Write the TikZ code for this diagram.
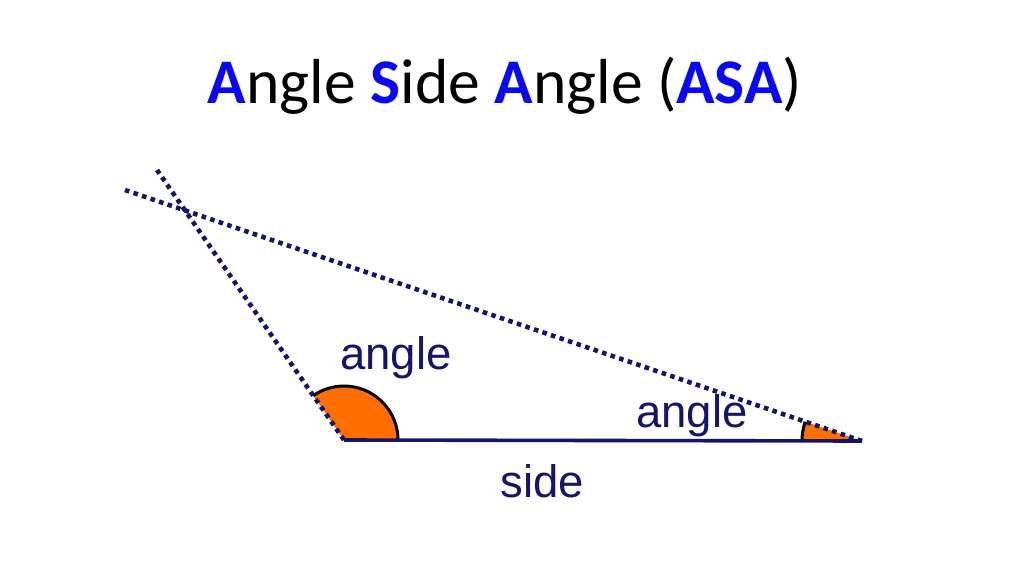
\documentclass[tikz,border=0pt]{standalone}
\usepackage{fontspec}
\setmainfont{Carlito}
\newfontfamily\arialf{Liberation Sans}
\definecolor{navy}{RGB}{22,22,105}
\definecolor{titleblue}{RGB}{10,10,240}
\definecolor{angorange}{RGB}{255,110,0}
\begin{document}
\begin{tikzpicture}[x=1pt,y=-1pt,
  dotline/.style={navy,line width=4.6pt,dash pattern=on 4.6pt off 4.4pt},
  baseline/.style={navy,line width=3.6pt},
  arcline/.style={black,line width=3pt},
  lbl/.style={navy,font=\arialf\fontsize{45.5}{50}\selectfont,inner sep=0pt}]
\useasboundingbox (0,0) rectangle (1024,575);
\fill[white] (0,0) rectangle (1024,575);
\node[font=\fontsize{63.6}{70}\selectfont,inner sep=0pt,anchor=base] (title) at (505,104)
  {\textbf{\color{titleblue}A}ngle \textbf{\color{titleblue}S}ide \textbf{\color{titleblue}A}ngle (\textbf{\color{titleblue}ASA})};
\coordinate (L) at (344,440);
\coordinate (R) at (862,441);
\coordinate (Lend) at (157,170);
\coordinate (Rend) at (125,190);
\fill[angorange] (L) -- ++(0:54) arc[start angle=0,end angle=-124.7,radius=54] -- cycle;
\draw[arcline] (L) ++(0:54) arc[start angle=0,end angle=-124.7,radius=54];
\fill[angorange] (R) -- ++(180:60) arc[start angle=180,end angle=198.8,radius=60] -- cycle;
\draw[arcline] (R) ++(180:60) arc[start angle=180,end angle=198.8,radius=60];
\draw[dotline] (L) -- (Lend);
\draw[dotline] (R) -- (Rend);
\draw[baseline] (L) -- (R);
\node[lbl] (a1) at (396,358) {angle};
\node[lbl] (a2) at (692,416) {angle};
\node[lbl] (s) at (542,481) {side};
\end{tikzpicture}
\end{document}
